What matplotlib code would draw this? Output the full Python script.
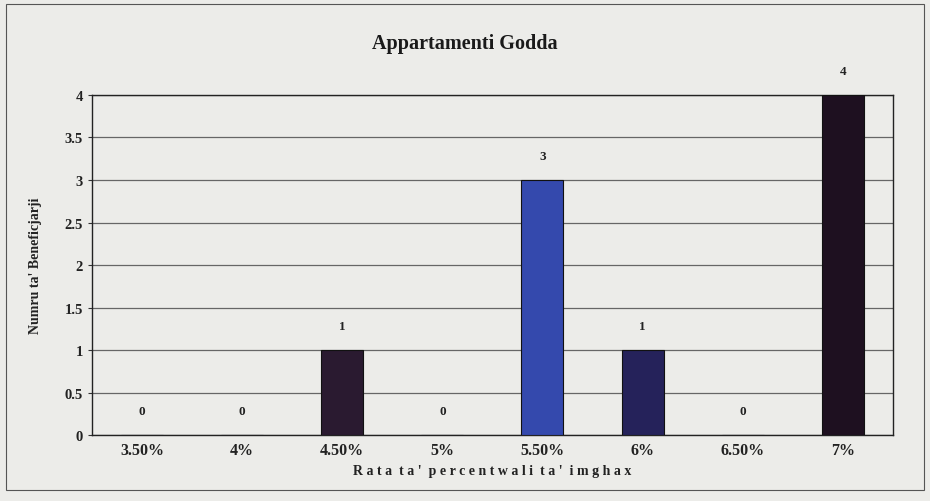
import matplotlib
matplotlib.use('Agg')
import matplotlib.pyplot as plt
from matplotlib.patches import Rectangle

categories = ['3.50%', '4%', '4.50%', '5%', '5.50%', '6%', '6.50%', '7%']
values = [0, 0, 1, 0, 3, 1, 0, 4]
bar_colors = ['#2a1a30', '#2a1a30', '#2a1a30', '#2a1a30', '#3449ad', '#25225a', '#2a1a30', '#1e1020']
y_ticks = [0, 0.5, 1, 1.5, 2, 2.5, 3, 3.5, 4]
y_tick_labels = ['0', '0.5', '1', '1.5', '2', '2.5', '3', '3.5', '4']

plt.rcParams['font.family'] = ['Liberation Serif', 'DejaVu Serif']
plt.rcParams['font.weight'] = 'bold'

bg = '#ecece9'
fig = plt.figure(figsize=(9.30, 5.02), dpi=100, facecolor=bg)
fig.patches.append(Rectangle((0.006, 0.022), 0.988, 0.968, transform=fig.transFigure,
                             fill=False, edgecolor='#555555', linewidth=0.8))

ax = fig.add_axes([0.099, 0.131, 0.861, 0.678], facecolor=bg)
x = list(range(len(categories)))
ax.bar(x, values, width=0.42, color=bar_colors, edgecolor='#111111', linewidth=0.8, zorder=3)

for xi, v in zip(x, values):
    ax.text(xi, v + 0.28, str(v), ha='center', va='center', fontsize=9.5, fontweight='bold', color='#222222')

ax.set_xlim(-0.5, len(categories) - 0.5)
ax.set_ylim(0, 4)
ax.set_yticks(y_ticks)
ax.set_yticklabels(y_tick_labels, fontsize=10.5, fontweight='bold')
ax.set_xticks(x)
ax.set_xticklabels(categories, fontsize=11.5, fontweight='bold')
ax.yaxis.grid(True, color='#666666', linewidth=0.9, zorder=0)
ax.tick_params(axis='both', length=3, color='#333333', labelcolor='#222222')
ax.tick_params(axis='x', length=0, pad=5)
for s in ax.spines.values():
    s.set_color('#222222')
    s.set_linewidth(1.0)

ax.set_ylabel("Numru ta' Beneficjarji", fontsize=10, fontweight='bold', labelpad=16, color='#222222')
ax.set_xlabel("R a t a  t a '  p e r c e n t w a l i  t a '  i m g h a x", fontsize=10,
              fontweight='bold', labelpad=4, color='#222222')
fig.text(0.5, 0.913, 'Appartamenti Godda', ha='center', va='center', fontsize=14.5,
         fontweight='bold', color='#1a1a1a')

fig.savefig('out.png', dpi=100, facecolor=bg)
